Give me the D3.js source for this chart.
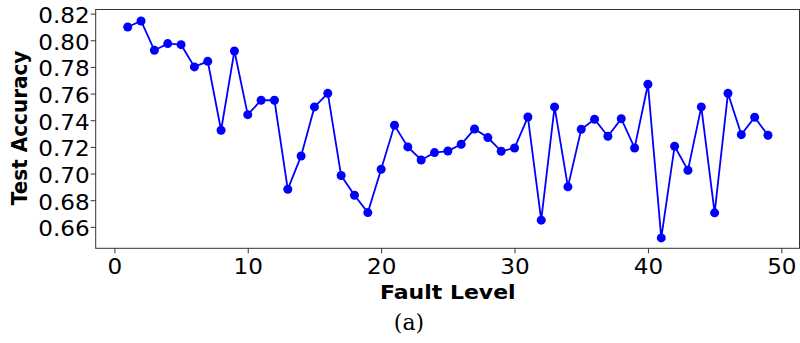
<!DOCTYPE html>
<html>
<head>
<meta charset="utf-8">
<script src="https://cdn.jsdelivr.net/npm/d3@7"></script>
<style>
  body { margin: 0; background: #fff; }
  svg { display: block; }
</style>
</head>
<body>
<div id="chart"></div>
<script>
// fault levels 1..49 and the accuracy
const faultLevels = d3.range(1, 50);
const testAccuracy = [
  0.810, 0.8145, 0.7925, 0.7975, 0.7967, 0.780, 0.7842, 0.7325, 0.792, 0.7442,
  0.755, 0.755, 0.6882, 0.7132, 0.750, 0.7602, 0.6985, 0.6837, 0.6707, 0.7032,
  0.7362, 0.720, 0.7102, 0.7157, 0.7169, 0.722, 0.7334, 0.727, 0.7167, 0.7192,
  0.7424, 0.665, 0.750, 0.690, 0.7332, 0.7407, 0.728, 0.7412, 0.7192, 0.767,
  0.6517, 0.7205, 0.7025, 0.750, 0.6705, 0.7602, 0.7292, 0.7422, 0.7287
];
const xTicks = [0, 10, 20, 30, 40, 50];
const yTicks = [0.66, 0.68, 0.70, 0.72, 0.74, 0.76, 0.78, 0.80, 0.82];

const W = 800, H = 343;
const plotL = 95.7, plotR = 799.5, plotT = 9.5, plotB = 248.3;
const stretch = 'scale(1.1,1)';

const svg = d3.select('#chart').append('svg')
  .attr('width', W)
  .attr('height', H);

const x = d3.scaleLinear().domain([-1.4, 51.4]).range([plotL, 800]);
const y = d3.scaleLinear().domain([0.6439, 0.8231]).range([plotB, plotT]);

// frame
svg.append('rect')
  .attr('x', plotL)
  .attr('y', plotT)
  .attr('width', plotR - plotL)
  .attr('height', plotB - plotT)
  .attr('fill', 'none')
  .attr('stroke', '#333')
  .attr('stroke-width', 1);

const xAxis = svg.append('g')
  .attr('transform', `translate(0,${plotB})`)
  .call(d3.axisBottom(x).tickValues(xTicks).tickFormat(d3.format('d')).tickSize(5).tickPadding(6));

const yAxis = svg.append('g')
  .attr('transform', `translate(${plotL},0)`)
  .call(d3.axisLeft(y).tickValues(yTicks).tickFormat(d3.format('.2f')).tickSize(5).tickPadding(0.5));

[xAxis, yAxis].forEach(g => {
  g.select('.domain').remove();
  g.selectAll('line').attr('stroke', '#333');
  g.selectAll('text')
    .attr('fill', '#000')
    .style('font-family', '"DejaVu Sans", sans-serif')
    .style('font-size', '21px')
    .attr('transform', stretch);
});
yAxis.selectAll('text').attr('dy', '0.42em');

const line = d3.line()
  .x((d, i) => x(faultLevels[i]))
  .y(d => y(d));

svg.append('path')
  .datum(testAccuracy)
  .attr('d', line)
  .attr('fill', 'none')
  .attr('stroke', '#0000ff')
  .attr('stroke-width', 1.8);

svg.selectAll('.pt')
  .data(testAccuracy)
  .enter()
  .append('circle')
  .attr('class', 'pt')
  .attr('cx', (d, i) => x(faultLevels[i]))
  .attr('cy', d => y(d))
  .attr('r', 4.5)
  .attr('fill', '#0000ff');

// labels
svg.append('text')
  .attr('transform', `translate(447.8,299.3) ${stretch}`)
  .attr('text-anchor', 'middle')
  .style('font-family', '"DejaVu Sans", sans-serif')
  .style('font-weight', 'bold')
  .style('font-size', '20px')
  .text('Fault Level');

svg.append('text')
  .attr('transform', `translate(27,${(plotT + plotB) / 2 - 1}) rotate(-90) scale(1,1.08)`)
  .attr('text-anchor', 'middle')
  .style('font-family', '"DejaVu Sans", sans-serif')
  .style('font-weight', 'bold')
  .style('font-size', '20px')
  .text('Test Accuracy');

svg.append('text')
  .attr('x', 409)
  .attr('y', 330)
  .attr('text-anchor', 'middle')
  .style('font-family', '"DejaVu Serif", serif')
  .style('font-size', '22px')
  .text('(a)');
</script>
</body>
</html>
